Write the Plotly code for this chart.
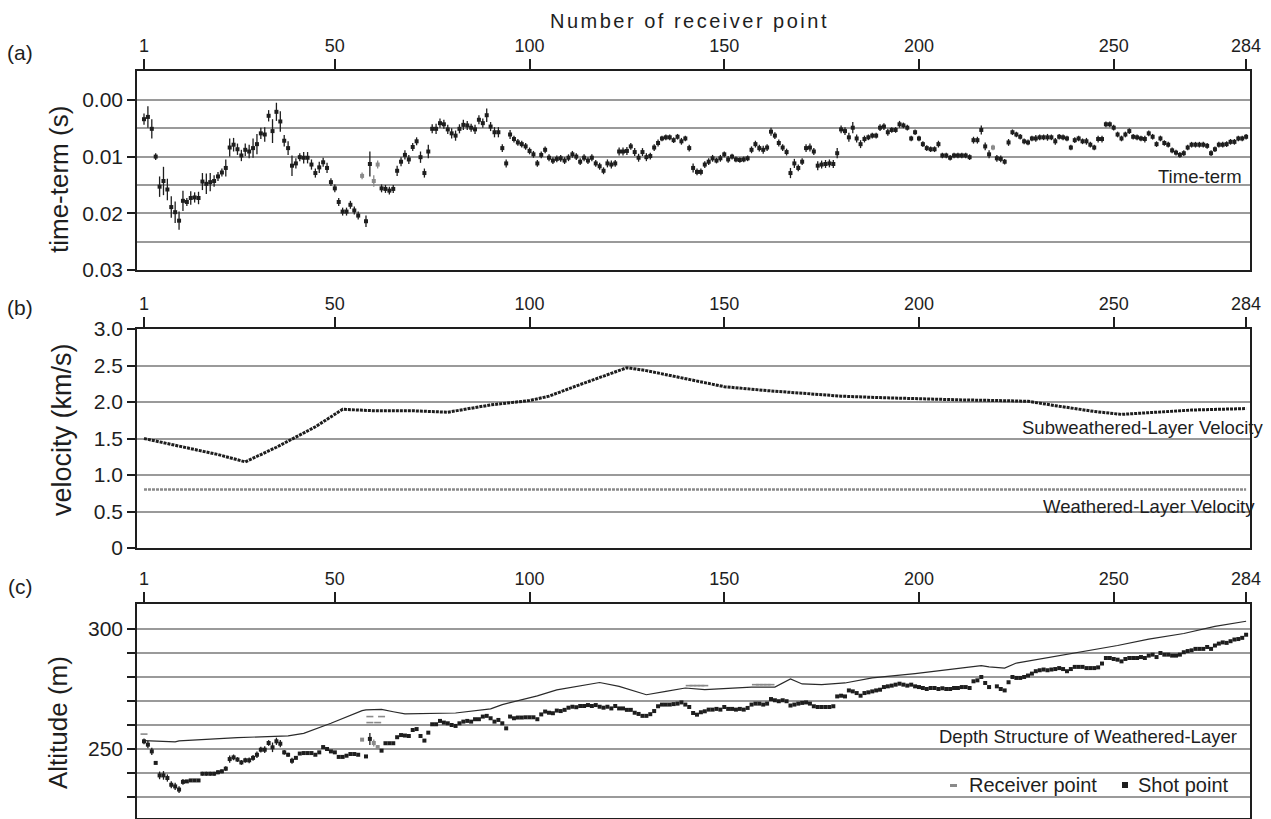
import numpy as np
import plotly.graph_objects as go

W, H = 1271, 819
FONT = "Liberation Sans, Arial, Helvetica, sans-serif"
INK = "#1e1e1e"
GRID = "#9a9a9a"

rp_ticks = [1, 50, 100, 150, 200, 250, 284]

# receiver numbers at which a shot point was recorded
shot_rp = list(range(1, 57)) + [58, 59] + list(range(62, 219)) + list(range(220, 285))

# (a) time-term of each shot point, in ms, and its uncertainty
time_term_ms = [
    3.4, 3.0, 5.1, 10.0, 15.3, 14.3, 15.8, 18.9, 19.8, 21.3,
    17.8, 18.0, 17.3, 17.2, 17.3, 14.4, 14.8, 14.5, 14.3, 13.5,
    12.8, 12.0, 8.4, 7.9, 8.7, 9.8, 8.8, 9.1, 8.5, 7.8,
    5.9, 6.1, 2.8, 5.5, 2.1, 3.8, 7.2, 8.5, 11.6, 11.2,
    10.1, 10.2, 10.2, 11.4, 12.9, 11.9, 11.0, 12.0, 14.5, 15.6,
    18.0, 19.7, 19.7, 18.5, 19.5, 20.4,
    21.4, 11.3,
    15.6, 15.7, 16.0, 15.7, 12.5, 10.9, 9.7, 10.5, 8.3, 7.3,
    10.1, 12.9, 9.1, 5.1, 5.1, 4.1, 4.3, 5.2, 5.9, 6.3,
    5.1, 4.4, 4.5, 4.9, 5.2, 3.5, 4.1, 2.7, 4.7, 5.7,
    5.7, 8.5, 11.2, 6.1, 6.9, 7.5, 7.8, 8.2, 9.0, 9.6,
    11.2, 9.7, 8.8, 10.2, 10.7, 10.4, 10.3, 10.7, 10.2, 9.6,
    10.0, 10.9, 10.2, 10.7, 10.2, 11.2, 11.7, 12.5, 11.2, 11.4,
    11.2, 9.1, 9.1, 9.0, 8.2, 9.2, 10.2, 9.2, 10.1, 9.9,
    8.4, 7.6, 6.8, 6.6, 6.6, 7.1, 6.5, 7.3, 6.8, 8.5,
    12.0, 12.7, 12.7, 11.4, 10.9, 10.3, 10.7, 10.3, 9.6, 10.5,
    10.0, 10.5, 10.6, 10.5, 10.3, 8.8, 7.8, 8.5, 8.8, 8.4,
    5.6, 6.3, 7.6, 8.4, 9.2, 12.9, 11.2, 12.0, 10.9, 8.5,
    8.4, 9.1, 11.6, 11.4, 11.3, 11.2, 11.3, 9.4, 5.2, 5.5,
    6.6, 4.9, 6.8, 7.8, 6.9, 6.6, 6.3, 6.3, 4.9, 4.7,
    5.7, 5.3, 5.3, 4.3, 4.5, 4.9, 6.8, 5.7, 6.8, 7.8,
    8.5, 8.7, 8.7, 7.8, 9.8, 9.8, 10.2, 9.8, 9.8, 9.8,
    9.8, 10.1, 7.1, 7.1, 5.3, 8.2, 9.6,
    10.3, 10.4, 10.9, 7.5, 5.7, 6.1, 6.5, 7.3, 7.5, 6.8,
    6.8, 6.6, 6.6, 6.6, 6.6, 7.3, 6.5, 6.6, 6.8, 8.4,
    7.1, 6.8, 7.3, 7.3, 7.9, 8.4, 6.9, 6.9, 4.3, 4.3,
    4.9, 6.1, 6.8, 6.1, 5.5, 6.5, 6.6, 6.8, 6.9, 5.9,
    6.5, 7.8, 6.8, 7.6, 7.9, 8.9, 9.3, 9.7, 9.4, 8.4,
    7.9, 7.9, 7.9, 7.9, 8.1, 9.4, 8.7, 7.9, 7.9, 7.8,
    7.4, 7.4, 6.8, 6.8, 6.5,
]
time_term_err_ms = [
    1.0, 1.9, 1.7, 0.6, 1.8, 2.5, 1.9, 1.9, 1.9, 1.6,
    1.8, 0.7, 1.2, 0.9, 1.1, 1.5, 1.8, 1.6, 1.0, 0.8,
    0.7, 1.5, 1.6, 1.2, 1.0, 1.0, 1.1, 1.2, 1.7, 1.8,
    1.0, 1.3, 1.0, 2.1, 1.6, 1.8, 1.0, 1.2, 1.8, 0.9,
    0.7, 1.0, 1.0, 0.9, 0.8, 1.0, 0.8, 0.9, 0.7, 0.7,
    0.7, 0.7, 0.7, 0.7, 0.7, 0.7,
    1.0, 2.2,
    0.7, 0.7, 0.7, 0.7, 0.9, 0.8, 0.8, 0.8, 0.7, 0.7,
    1.0, 0.8, 1.2, 0.8, 0.9, 0.8, 0.8, 0.8, 0.9, 0.9,
    0.8, 0.9, 0.8, 0.7, 0.8, 0.8, 0.8, 1.2, 0.8, 0.9,
    0.9, 0.7, 0.7, 0.8, 0.6, 0.6, 0.6, 0.6, 0.6, 0.6,
    0.6, 0.6, 0.6, 0.6, 0.6, 0.6, 0.6, 0.6, 0.6, 0.6,
    0.6, 0.6, 0.6, 0.6, 0.6, 0.6, 0.6, 0.6, 0.7, 0.7,
    0.6, 0.7, 0.7, 0.7, 0.6, 0.7, 0.7, 0.7, 0.7, 0.6,
    0.6, 0.6, 0.5, 0.5, 0.5, 0.5, 0.5, 0.6, 0.5, 0.6,
    0.8, 0.6, 0.6, 0.6, 0.6, 0.6, 0.5, 0.6, 0.5, 0.6,
    0.5, 0.5, 0.5, 0.5, 0.5, 0.6, 0.6, 0.6, 0.7, 0.6,
    0.7, 0.6, 0.6, 0.6, 0.6, 0.9, 0.8, 0.6, 0.6, 0.7,
    0.7, 0.6, 0.8, 0.7, 0.7, 0.7, 0.7, 0.9, 0.7, 0.7,
    0.8, 1.0, 0.7, 0.7, 0.6, 0.5, 0.5, 0.5, 0.6, 0.6,
    0.6, 0.5, 0.5, 0.6, 0.5, 0.5, 0.5, 0.5, 0.5, 0.5,
    0.5, 0.5, 0.5, 0.6, 0.5, 0.5, 0.5, 0.5, 0.5, 0.5,
    0.5, 0.5, 0.6, 0.6, 0.8, 0.7, 0.7,
    0.6, 0.6, 0.5, 0.6, 0.5, 0.5, 0.5, 0.5, 0.5, 0.5,
    0.6, 0.5, 0.5, 0.6, 0.5, 0.6, 0.5, 0.5, 0.5, 0.5,
    0.5, 0.5, 0.5, 0.6, 0.5, 0.5, 0.6, 0.6, 0.5, 0.5,
    0.5, 0.5, 0.5, 0.5, 0.5, 0.5, 0.5, 0.5, 0.6, 0.5,
    0.5, 0.5, 0.5, 0.5, 0.5, 0.5, 0.5, 0.5, 0.5, 0.5,
    0.5, 0.5, 0.5, 0.5, 0.5, 0.5, 0.5, 0.5, 0.5, 0.5,
    0.5, 0.5, 0.5, 0.5, 0.5,
]

# (a) time-terms evaluated at receiver points only
recv_tt_rp = [57, 60, 61, 219]
recv_tt_ms = [13.4, 14.3, 11.4, 8.4]
recv_tt_err_ms = [0.6, 1.0, 0.7, 0.5]

# (b) layer velocities (km/s)
sub_rp = [1, 10, 20, 27, 35, 45, 52, 60, 70, 79, 90, 100, 105, 112, 120, 125,
          130, 137, 145, 150, 160, 170, 180, 190, 200, 210, 220, 228, 235, 245,
          252, 260, 270, 284]
sub_vel = [1.50, 1.40, 1.28, 1.18, 1.38, 1.66, 1.90, 1.88, 1.88, 1.86, 1.96, 2.02,
           2.08, 2.22, 2.38, 2.47, 2.43, 2.35, 2.26, 2.21, 2.16, 2.12, 2.08, 2.06,
           2.04, 2.03, 2.02, 2.01, 1.95, 1.87, 1.83, 1.86, 1.89, 1.91]
wea_rp = [1, 284]
wea_vel = [0.8, 0.8]

# (c) altitude of the weathered-layer base beneath each shot point (m)
shot_alt = [
    253.2, 251.8, 249.0, 244.2, 239.0, 239.0, 237.9, 235.1, 234.4, 233.1,
    236.3, 236.5, 236.9, 236.9, 236.9, 239.7, 239.7, 239.7, 239.7, 240.3,
    240.7, 241.8, 245.8, 246.5, 245.6, 244.4, 245.3, 245.3, 246.3, 247.6,
    249.7, 249.7, 252.5, 250.7, 253.2, 252.2, 248.6, 247.6, 245.1, 246.3,
    248.1, 248.3, 248.3, 248.3, 247.6, 248.6, 250.8, 250.0, 249.0, 248.6,
    246.7, 246.7, 247.2, 247.9, 247.9, 247.6,
    246.9, 254.2,
    249.3, 252.4, 252.4, 252.4, 254.9, 255.8, 255.6, 255.4, 257.9, 258.3,
    255.4, 253.5, 256.8, 260.3, 260.3, 261.7, 261.0, 260.7, 260.0, 259.6,
    260.7, 261.4, 261.7, 261.4, 262.4, 262.4, 263.5, 263.8, 262.8, 261.4,
    262.1, 260.7, 258.6, 263.5, 262.8, 263.1, 263.1, 263.2, 263.2, 263.2,
    262.4, 264.4, 265.6, 265.1, 264.9, 266.0, 265.8, 266.3, 267.2, 267.6,
    267.4, 267.9, 267.9, 268.3, 267.9, 268.3, 267.6, 267.2, 267.6, 266.9,
    267.9, 266.9, 266.9, 266.3, 266.3, 265.1, 264.6, 263.8, 263.8, 264.5,
    265.8, 267.8, 268.5, 268.5, 268.5, 268.7, 268.9, 269.4, 268.5, 267.5,
    265.0, 264.3, 265.3, 265.7, 266.4, 266.4, 266.7, 266.4, 267.5, 266.7,
    266.7, 266.4, 266.7, 266.4, 267.1, 268.5, 268.9, 268.9, 268.5, 268.9,
    270.8, 270.3, 269.9, 270.3, 269.9, 268.1, 268.5, 268.9, 269.2, 269.4,
    268.9, 267.8, 267.5, 267.5, 267.5, 267.5, 267.8, 271.9, 272.2, 271.9,
    274.4, 274.0, 273.3, 272.2, 273.3, 273.6, 274.0, 274.4, 274.7, 275.8,
    276.1, 276.4, 276.8, 277.2, 276.8, 276.4, 276.8, 276.1, 275.8, 275.4,
    275.0, 275.4, 275.4, 275.0, 275.3, 275.0, 275.0, 275.4, 275.4, 275.8,
    275.8, 275.4, 278.2, 278.6, 280.0, 277.5, 275.8,
    276.1, 275.0, 274.4, 277.8, 280.0, 279.6, 279.6, 280.0, 280.6, 281.4,
    282.4, 282.8, 283.1, 282.8, 283.1, 283.3, 283.7, 283.3, 282.4, 283.3,
    284.2, 284.2, 284.2, 283.7, 283.7, 283.7, 284.0, 285.6, 287.9, 287.9,
    287.5, 287.2, 286.5, 287.5, 287.9, 287.9, 287.9, 288.3, 287.9, 288.9,
    289.3, 288.3, 290.0, 289.3, 289.3, 288.9, 288.9, 289.3, 290.3, 290.8,
    291.1, 291.7, 291.7, 291.7, 292.5, 291.7, 293.1, 293.9, 294.4, 294.2,
    294.9, 295.6, 295.8, 296.3, 297.6,
]
# uncertainty of the first shot points (the later ones are below a pixel)
shot_alt_err = [
    1.2, 1.5, 1.5, 0.6, 1.6, 1.8, 1.5, 1.5, 1.5, 1.4,
    1.2, 0.6, 0.6, 0.6, 0.6, 0.8, 0.8, 0.8, 0.8, 0.8,
    0.8, 1.0, 1.5, 1.2, 1.0, 1.0, 1.0, 1.2, 1.2, 1.4,
    1.2, 1.4, 1.2, 2.0, 1.5, 1.5, 1.0, 0.8, 1.2, 0.6,
    0.5, 0.5, 0.5, 0.5, 0.5, 0.5, 0.5, 0.5, 0.5, 0.5,
    0.5, 0.5, 0.5, 0.5, 0.5, 0.5,
    0.6, 2.5,
]

# (c) receiver-point depth estimates
recv_alt_rp = [57, 60, 61]
recv_alt = [253.9, 252.5, 250.8]
recv_alt_err = [0.5, 1.5, 0.8]

# (c) receiver-point elevations offset from the surface trace
recv_dash_rp = [1, 59, 62, 59, 61, 141, 142, 143, 144, 145, 158, 159, 160, 161, 162]
recv_dash_alt = [256.2, 263.5, 263.5, 261.0, 261.0, 276.4, 276.4, 276.4, 276.4, 276.4,
                 276.8, 276.8, 276.8, 276.8, 276.8]

# (c) surface elevation along the line
surf_rp = [1, 9, 10, 25, 38, 42, 49, 57, 58, 62, 65, 68, 81, 90, 93, 102, 107, 118,
           123, 130, 135, 140, 145, 157, 163, 167, 170, 175, 181, 188, 199, 208, 216,
           218, 222, 225, 234, 242, 251, 259, 268, 276, 284]
surf_alt = [253.5, 253.0, 253.4, 254.7, 255.5, 256.5, 260.7, 266.0, 266.3, 266.5,
            265.5, 264.6, 265.0, 266.7, 268.5, 272.1, 274.6, 277.7, 276.1, 272.6,
            274.0, 275.4, 274.7, 275.8, 275.8, 279.2, 277.1, 276.8, 277.5, 279.6,
            281.4, 283.1, 284.7, 284.2, 283.7, 285.8, 288.3, 290.7, 293.1, 295.8,
            298.1, 301.1, 303.2]

assert len(shot_rp) == len(time_term_ms) == len(time_term_err_ms) == len(shot_alt)

n_err = len(shot_alt_err)


def px(x):
    return x / W


def py(y):
    return 1 - y / H


fig = go.Figure()

# ---- (a) time-term
fig.add_trace(go.Scatter(
    x=shot_rp, y=np.array(time_term_ms) / 1000.0, mode="markers",
    marker=dict(symbol="square", size=4, color=INK),
    error_y=dict(type="data", array=np.array(time_term_err_ms) / 1000.0,
                 color=INK, thickness=1.3, width=0),
    xaxis="x", yaxis="y", showlegend=False))
fig.add_trace(go.Scatter(
    x=recv_tt_rp, y=np.array(recv_tt_ms) / 1000.0, mode="markers",
    marker=dict(symbol="square", size=4, color="#8a8a8a"),
    error_y=dict(type="data", array=np.array(recv_tt_err_ms) / 1000.0,
                 color="#8a8a8a", thickness=1.3, width=0),
    xaxis="x", yaxis="y", showlegend=False))

# ---- (b) velocities
fig.add_trace(go.Scatter(
    x=sub_rp, y=sub_vel, mode="lines",
    line=dict(color=INK, width=3, dash="3px,1px"),
    xaxis="x2", yaxis="y2", showlegend=False))
fig.add_trace(go.Scatter(
    x=wea_rp, y=wea_vel, mode="lines",
    line=dict(color="#8a8a8a", width=2.5, dash="3px,1px"),
    xaxis="x2", yaxis="y2", showlegend=False))

# ---- (c) depth structure
fig.add_trace(go.Scatter(
    x=surf_rp, y=surf_alt, mode="lines",
    line=dict(color="#2a2a2a", width=1.2),
    xaxis="x3", yaxis="y3", showlegend=False))
fig.add_trace(go.Scatter(
    x=recv_dash_rp, y=recv_dash_alt, mode="markers",
    marker=dict(symbol="line-ew", size=5, line=dict(color="#8a8a8a", width=1.6)),
    xaxis="x3", yaxis="y3", showlegend=False))
fig.add_trace(go.Scatter(
    x=recv_alt_rp, y=recv_alt, mode="markers",
    marker=dict(symbol="square", size=4, color="#8a8a8a"),
    error_y=dict(type="data", array=recv_alt_err, color="#8a8a8a", thickness=1.3, width=0),
    xaxis="x3", yaxis="y3", showlegend=False))
fig.add_trace(go.Scatter(
    x=shot_rp[:n_err], y=shot_alt[:n_err], mode="markers",
    marker=dict(symbol="square", size=4, color=INK),
    error_y=dict(type="data", array=shot_alt_err, color=INK, thickness=1.3, width=0),
    xaxis="x3", yaxis="y3", showlegend=False))
fig.add_trace(go.Scatter(
    x=shot_rp[n_err:], y=shot_alt[n_err:], mode="markers",
    marker=dict(symbol="square", size=4, color=INK),
    xaxis="x3", yaxis="y3", showlegend=False))

xdom = [px(137), px(1250)]
xcommon = dict(
    domain=xdom, range=[-0.8, 285.0], side="top", tickmode="array",
    tickvals=rp_ticks, ticktext=[str(v) for v in rp_ticks],
    ticks="outside", ticklen=10, tickwidth=1.5, tickcolor=INK,
    showline=True, linecolor=INK, linewidth=1.5, mirror=True, automargin=False,
    showgrid=False, zeroline=False, tickfont=dict(family=FONT, size=18, color=INK))
ycommon = dict(
    ticks="outside", ticklen=8, tickwidth=1.5, tickcolor=INK,
    showline=True, linecolor=INK, linewidth=1.5, mirror=True, automargin=False,
    showgrid=True, gridcolor=GRID, gridwidth=1.5, zeroline=False,
    tickfont=dict(family=FONT, size=21, color=INK))

fig.update_layout(
    width=W, height=H, autosize=False,
    margin=dict(l=0, r=0, t=0, b=0, pad=0, autoexpand=False),
    paper_bgcolor="white", plot_bgcolor="white",
    font=dict(family=FONT, color=INK),
    xaxis=dict(anchor="y", **xcommon),
    xaxis2=dict(anchor="y2", **xcommon),
    xaxis3=dict(anchor="y3", **xcommon),
    yaxis=dict(anchor="x", domain=[py(270), py(71)], range=[0.03, -0.0051],
               tickmode="array", tickvals=[0.0, 0.01, 0.02, 0.03],
               ticktext=["0.00", "0.01", "0.02", "0.03"],
               minor=dict(tickvals=[0.005, 0.015, 0.025], showgrid=True,
                          gridcolor=GRID, gridwidth=1.5, ticks=""),
               **ycommon),
    yaxis2=dict(anchor="x2", domain=[py(548), py(329)], range=[0, 3.0],
                tickmode="array", tickvals=[0, 0.5, 1.0, 1.5, 2.0, 2.5, 3.0],
                ticktext=["0", "0.5", "1.0", "1.5", "2.0", "2.5", "3.0"],
                **ycommon),
    yaxis3=dict(anchor="x3", domain=[py(818), py(604)], range=[221.25, 310.4],
                tickmode="array", tickvals=[230, 240, 250, 260, 270, 280, 290, 300],
                ticktext=["", "", "250", "", "", "", "", "300"],
                **ycommon),
)

ann = []


def note(x, y, text, size, xanchor="center", angle=0):
    ann.append(dict(x=px(x), y=py(y), xref="paper", yref="paper", text=text,
                    showarrow=False, xanchor=xanchor, yanchor="middle",
                    textangle=angle, borderpad=0,
                    font=dict(family=FONT, size=size, color=INK)))


note(689, 21, '<span style="letter-spacing:2.5px">Number of receiver point</span>', 20)
note(20, 52, "(a)", 21)
note(20, 307, "(b)", 21)
note(20, 586, "(c)", 21)
note(59, 180, "time-term (s)", 26, angle=-90)
note(62, 430, "velocity (km/s)", 27, angle=-90)
note(58, 723, "Altitude (m)", 26, angle=-90)
note(1243, 176, "Time-term", 18.5, xanchor="right")
note(1264, 427, "Subweathered-Layer Velocity", 18.5, xanchor="right")
note(1256, 506, "Weathered-Layer Velocity", 18.5, xanchor="right")
note(1238, 736, "Depth Structure of Weathered-Layer", 18.5, xanchor="right")
note(968, 785, "Receiver point", 20, xanchor="left")
note(1137, 785, "Shot point", 20, xanchor="left")
fig.update_layout(annotations=ann)

# legend keys for panel (c)
fig.update_layout(shapes=[
    dict(type="rect", xref="paper", yref="paper", x0=px(950), x1=px(957),
         y0=py(787), y1=py(784), fillcolor="#8a8a8a", line=dict(width=0)),
    dict(type="rect", xref="paper", yref="paper", x0=px(1122), x1=px(1128),
         y0=py(788), y1=py(782), fillcolor=INK, line=dict(width=0)),
])

fig.write_html("out.html")
